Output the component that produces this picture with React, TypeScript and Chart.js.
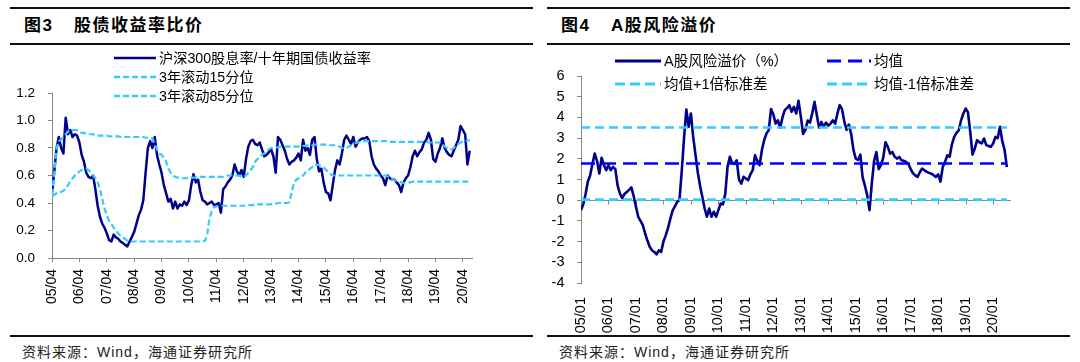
import React, { useEffect, useRef } from 'react';
import { Chart, registerables } from 'chart.js';

Chart.register(...registerables);

const FONT = '"Liberation Sans", Arial, "Noto Sans CJK SC", sans-serif';
const NAVY = '#00008B';
const BLUE = '#0000FF';
const CYAN = '#33CCFF';
const AXIS = '#868686';

// ---------- Figure 3: stock / bond yield ratio (monthly, from 2005-04) ----------
const LEFT_TICK_LABELS = ['05/04', '06/04', '07/04', '08/04', '09/04', '10/04', '11/04', '12/04', '13/04', '14/04', '15/04', '16/04', '17/04', '18/04', '19/04', '20/04'];
const LEFT_Y_TICKS = [0, 0.2, 0.4, 0.6, 0.8, 1.0, 1.2];

const RATIO = [
  0.47, 0.63, 0.80, 0.88, 0.80, 0.76, 1.02, 0.90, 0.93, 0.88, 0.90, 0.89,
  0.84, 0.75, 0.70, 0.62, 0.59, 0.58, 0.60, 0.50, 0.38, 0.30, 0.25, 0.22,
  0.18, 0.13, 0.12, 0.17, 0.15, 0.14, 0.12, 0.11, 0.095, 0.085, 0.12, 0.155,
  0.19, 0.25, 0.31, 0.35, 0.42, 0.62, 0.80, 0.85, 0.80, 0.88, 0.75, 0.68,
  0.62, 0.53, 0.47, 0.41, 0.43, 0.36, 0.41, 0.36, 0.39, 0.38, 0.41, 0.385,
  0.42, 0.53, 0.61, 0.55, 0.57, 0.48, 0.42, 0.41, 0.39, 0.40, 0.41, 0.385,
  0.39, 0.40, 0.33, 0.50, 0.52, 0.55, 0.57, 0.60, 0.68, 0.63, 0.60, 0.64,
  0.59, 0.72, 0.81, 0.85, 0.86, 0.83, 0.82, 0.84, 0.79, 0.74, 0.75, 0.77,
  0.79, 0.74, 0.62, 0.88, 0.86, 0.82, 0.78, 0.72, 0.68, 0.70, 0.71, 0.73,
  0.76, 0.71, 0.86, 0.78, 0.80, 0.75, 0.86, 0.88, 0.72, 0.63, 0.65, 0.55,
  0.48, 0.47, 0.42, 0.53, 0.64, 0.71, 0.68, 0.76, 0.86, 0.89, 0.86, 0.83,
  0.88, 0.81, 0.84, 0.86, 0.87, 0.87, 0.88, 0.85, 0.74, 0.68, 0.65, 0.63,
  0.60, 0.58, 0.53, 0.60, 0.58, 0.57, 0.57, 0.55, 0.53, 0.48, 0.55, 0.58,
  0.60, 0.66, 0.74, 0.78, 0.74, 0.77, 0.79, 0.84, 0.86, 0.91, 0.86, 0.72,
  0.70, 0.76, 0.80, 0.87, 0.80, 0.77, 0.75, 0.74, 0.78, 0.82, 0.86, 0.96,
  0.93, 0.90, 0.68, 0.78,
];

const PCT15 = [
  0.45, 0.46, 0.47, 0.475, 0.48, 0.49, 0.50, 0.53, 0.56, 0.58, 0.60, 0.61,
  0.63, 0.64, 0.645, 0.65, 0.64, 0.62, 0.60, 0.58, 0.55, 0.50, 0.43, 0.36,
  0.31, 0.27, 0.25, 0.22, 0.20, 0.18, 0.16, 0.15, 0.14, 0.125, 0.12, 0.12,
  0.12, 0.12, 0.12, 0.12, 0.12, 0.12, 0.12, 0.12, 0.12, 0.12, 0.12, 0.12,
  0.12, 0.12, 0.12, 0.12, 0.12, 0.12, 0.12, 0.12, 0.12, 0.12, 0.12, 0.12,
  0.12, 0.12, 0.12, 0.12, 0.12, 0.12, 0.12, 0.125, 0.17, 0.29, 0.34, 0.37,
  0.375, 0.38, 0.38, 0.38, 0.38, 0.38, 0.38, 0.38, 0.38, 0.38, 0.38, 0.38,
  0.38, 0.385, 0.385, 0.385, 0.385, 0.39, 0.39, 0.39, 0.39, 0.39, 0.39, 0.39,
  0.39, 0.395, 0.395, 0.40, 0.40, 0.40, 0.40, 0.40, 0.405, 0.48, 0.54, 0.57,
  0.58, 0.59, 0.60, 0.62, 0.63, 0.65, 0.66, 0.68, 0.68, 0.675, 0.67, 0.66,
  0.64, 0.63, 0.61, 0.60, 0.60, 0.60, 0.60, 0.60, 0.60, 0.60, 0.60, 0.60,
  0.60, 0.60, 0.60, 0.60, 0.60, 0.60, 0.60, 0.60, 0.60, 0.60, 0.60, 0.60,
  0.60, 0.60, 0.60, 0.595, 0.58, 0.57, 0.565, 0.56, 0.555, 0.55, 0.545, 0.545,
  0.55, 0.55, 0.555, 0.555, 0.555, 0.555, 0.555, 0.555, 0.555, 0.555, 0.555, 0.555,
  0.555, 0.555, 0.555, 0.555, 0.555, 0.555, 0.555, 0.555, 0.555, 0.555, 0.555, 0.555,
  0.555, 0.555, 0.555, 0.555,
];

const PCT85 = [
  0.46, 0.62, 0.80, 0.85, 0.86, 0.88, 0.90, 0.92, 0.93, 0.93, 0.93, 0.93,
  0.92, 0.91, 0.91, 0.90, 0.90, 0.90, 0.90, 0.89, 0.89, 0.89, 0.89, 0.89,
  0.89, 0.885, 0.885, 0.885, 0.885, 0.885, 0.88, 0.88, 0.88, 0.88, 0.88, 0.88,
  0.88, 0.88, 0.88, 0.88, 0.88, 0.875, 0.875, 0.87, 0.87, 0.83, 0.79, 0.76,
  0.75, 0.73, 0.70, 0.65, 0.62, 0.60, 0.59, 0.585, 0.58, 0.58, 0.58, 0.58,
  0.585, 0.585, 0.585, 0.585, 0.59, 0.59, 0.59, 0.59, 0.59, 0.59, 0.59, 0.59,
  0.59, 0.59, 0.59, 0.59, 0.595, 0.60, 0.60, 0.60, 0.60, 0.60, 0.60, 0.59,
  0.59, 0.60, 0.62, 0.64, 0.66, 0.70, 0.72, 0.74, 0.75, 0.76, 0.78, 0.79,
  0.80, 0.80, 0.805, 0.805, 0.81, 0.81, 0.81, 0.81, 0.81, 0.81, 0.81, 0.81,
  0.81, 0.81, 0.815, 0.815, 0.82, 0.82, 0.82, 0.825, 0.825, 0.825, 0.825, 0.825,
  0.825, 0.825, 0.82, 0.82, 0.82, 0.815, 0.81, 0.80, 0.80, 0.80, 0.81, 0.82,
  0.83, 0.835, 0.84, 0.845, 0.85, 0.85, 0.85, 0.85, 0.85, 0.85, 0.85, 0.85,
  0.85, 0.85, 0.85, 0.85, 0.845, 0.845, 0.845, 0.845, 0.845, 0.845, 0.845, 0.845,
  0.845, 0.845, 0.845, 0.845, 0.845, 0.845, 0.845, 0.845, 0.845, 0.84, 0.84, 0.84,
  0.84, 0.84, 0.84, 0.83, 0.81, 0.80, 0.79, 0.79, 0.80, 0.82, 0.83, 0.84,
  0.845, 0.85, 0.855, 0.855,
];

// ---------- Figure 4: A-share equity risk premium (monthly, from 2005-01) ----------
const RIGHT_TICK_LABELS = ['05/01', '06/01', '07/01', '08/01', '09/01', '10/01', '11/01', '12/01', '13/01', '14/01', '15/01', '16/01', '17/01', '18/01', '19/01', '20/01'];
const RIGHT_Y_TICKS = [-4, -3, -2, -1, 0, 1, 2, 3, 4, 5, 6];

const ERP = [
  -0.48, -0.20, 0.30, 0.90, 1.20, 1.75, 2.25, 1.90, 1.29, 2.05, 1.70, 1.45,
  1.69, 1.45, 1.61, 1.50, 0.70, 0.32, 0.10, 0.30, 0.40, 0.50, 0.62, 0.20,
  -0.32, -0.80, -1.00, -1.20, -1.61, -1.95, -2.25, -2.42, -2.50, -2.62, -2.42, -2.50,
  -2.00, -1.70, -1.35, -0.90, -0.50, -0.30, -0.08, 0.00, 1.40, 3.00, 4.38, 3.55,
  4.19, 3.06, 2.20, 1.35, 0.70, 0.15, -0.40, -0.80, -0.40, -0.80, -0.56, -0.80,
  -0.48, -0.16, -0.20, 0.30, 1.61, 2.10, 1.80, 1.75, 1.93, 1.00, 0.80, 1.13,
  1.05, 0.97, 1.25, 1.45, 2.17, 1.90, 1.69, 2.42, 2.90, 3.22, 3.38, 4.40,
  4.15, 3.70, 3.86, 3.50, 4.00, 4.35, 4.45, 4.59, 4.27, 4.51, 4.19, 4.80,
  4.05, 3.20, 3.40, 3.85, 3.75, 4.20, 4.75, 4.10, 3.50, 3.78, 3.55, 3.75,
  3.60, 3.70, 3.86, 3.70, 4.19, 4.59, 4.40, 3.80, 3.40, 3.65, 3.20, 2.42,
  2.01, 1.95, 2.20, 1.10, 0.70, 0.24, -0.48, 0.80, 1.90, 2.33, 1.50, 1.70,
  2.05, 2.80, 2.58, 2.25, 2.33, 2.10, 2.01, 2.09, 1.93, 1.90, 1.85, 1.75,
  1.50, 1.30, 1.20, 1.13, 1.35, 1.53, 1.45, 1.37, 1.32, 1.28, 1.21, 1.12,
  1.25, 0.90, 1.61, 1.85, 2.17, 2.10, 2.70, 3.06, 3.25, 3.38, 3.86, 4.19,
  4.43, 4.25, 3.30, 2.20, 2.50, 2.90, 2.80, 2.74, 2.98, 2.66, 2.62, 2.58,
  2.74, 3.06, 3.00, 3.55, 2.85, 2.43, 1.60,
];
const ERP_MEAN = 1.77;
const ERP_PLUS_SD = 3.51;
const ERP_MINUS_SD = 0.03;

const pts = (arr: number[]) => arr.map((v, i) => ({ x: i, y: v }));
const flat = (v: number, n: number) => Array.from({ length: n }, (_, i) => ({ x: i, y: v }));

const tickFont = (size: number) => ({ family: FONT, size });

function LeftChart() {
  const ref = useRef<HTMLCanvasElement | null>(null);
  useEffect(() => {
    if (!ref.current) return;
    const chart = new Chart(ref.current, {
      type: 'line',
      data: {
        datasets: [
          { label: '沪深300股息率/十年期国债收益率', data: pts(RATIO), borderColor: NAVY, borderWidth: 2.5, order: 3 },
          { label: '3年滚动15分位', data: pts(PCT15), borderColor: CYAN, borderWidth: 2.2, borderDash: [6, 3], order: 2 },
          { label: '3年滚动85分位', data: pts(PCT85), borderColor: CYAN, borderWidth: 2.2, borderDash: [6, 3], order: 1 },
        ],
      },
      options: {
        animation: false,
        responsive: false,
        maintainAspectRatio: false,
        layout: { padding: { left: 0, top: 48, right: 61, bottom: 0 } },
        plugins: { legend: { display: false }, tooltip: { enabled: false } },
        elements: { point: { radius: 0 }, line: { tension: 0, borderJoinStyle: 'round' } },
        scales: {
          x: {
            type: 'linear',
            min: 0,
            max: 184,
            afterBuildTicks: (s: any) => { s.ticks = LEFT_TICK_LABELS.map((_, k) => ({ value: k * 12 })); },
            afterFit: (s: any) => { s.height = 77; },
            grid: { drawOnChartArea: false, tickLength: 4, tickColor: AXIS, color: AXIS },
            border: { color: AXIS, width: 1 },
            ticks: {
              autoSkip: false, maxRotation: 90, minRotation: 90, padding: 7, color: '#000',
              font: tickFont(14),
              callback: (v: any) => LEFT_TICK_LABELS[Math.round(Number(v) / 12)] ?? '',
            },
          },
          y: {
            min: 0,
            max: 1.2,
            afterBuildTicks: (s: any) => { s.ticks = LEFT_Y_TICKS.map((v) => ({ value: v })); },
            afterFit: (s: any) => { s.width = 42; },
            grid: { drawOnChartArea: false, tickLength: 4, tickColor: AXIS, color: AXIS },
            border: { color: AXIS, width: 1 },
            ticks: { padding: 13, color: '#000', font: tickFont(13.5), callback: (v: any) => Number(v).toFixed(1) },
          },
        },
      } as any,
    });
    return () => chart.destroy();
  }, []);
  return <canvas ref={ref} width={523} height={290} style={{ display: 'block', width: 523, height: 290 }} />;
}

const zeroAxisPlugin = {
  id: 'zeroAxis',
  beforeDatasetsDraw(chart: any) {
    const { ctx, chartArea, scales } = chart;
    const y0 = Math.round(scales.y.getPixelForValue(0)) + 0.5;
    ctx.save();
    ctx.strokeStyle = AXIS;
    ctx.lineWidth = 1;
    ctx.beginPath();
    ctx.moveTo(chartArea.left, y0);
    ctx.lineTo(chartArea.right, y0);
    RIGHT_TICK_LABELS.forEach((_, k) => {
      const x = Math.round(scales.x.getPixelForValue(k * 12)) + 0.5;
      ctx.moveTo(x, y0);
      ctx.lineTo(x, y0 + 4);
    });
    ctx.stroke();
    ctx.restore();
  },
};

function RightChart() {
  const ref = useRef<HTMLCanvasElement | null>(null);
  useEffect(() => {
    if (!ref.current) return;
    const n = ERP.length;
    const chart = new Chart(ref.current, {
      type: 'line',
      data: {
        datasets: [
          { label: 'A股风险溢价（%）', data: pts(ERP), borderColor: NAVY, borderWidth: 2.6, order: 4 },
          { label: '均值', data: flat(ERP_MEAN, n), borderColor: BLUE, borderWidth: 2.6, borderDash: [14, 7], order: 3 },
          { label: '均值+1倍标准差', data: flat(ERP_PLUS_SD, n), borderColor: CYAN, borderWidth: 2.6, borderDash: [9, 5], order: 2 },
          { label: '均值-1倍标准差', data: flat(ERP_MINUS_SD, n), borderColor: CYAN, borderWidth: 2.6, borderDash: [9, 5], order: 1 },
        ],
      },
      plugins: [zeroAxisPlugin],
      options: {
        animation: false,
        responsive: false,
        maintainAspectRatio: false,
        layout: { padding: { left: 0, top: 31, right: 59, bottom: 0 } },
        plugins: { legend: { display: false }, tooltip: { enabled: false } },
        elements: { point: { radius: 0 }, line: { tension: 0, borderJoinStyle: 'round' } },
        scales: {
          x: {
            type: 'linear',
            min: 0,
            max: 187.8,
            afterBuildTicks: (s: any) => { s.ticks = RIGHT_TICK_LABELS.map((_, k) => ({ value: k * 12 })); },
            afterFit: (s: any) => { s.height = 52; },
            grid: { display: false, drawTicks: false, tickLength: 0 },
            border: { display: false },
            ticks: {
              autoSkip: false, maxRotation: 90, minRotation: 90, padding: 14, color: '#000',
              font: tickFont(14.5),
              callback: (v: any) => RIGHT_TICK_LABELS[Math.round(Number(v) / 12)] ?? '',
            },
          },
          y: {
            min: -4,
            max: 6,
            afterBuildTicks: (s: any) => { s.ticks = RIGHT_Y_TICKS.map((v) => ({ value: v })); },
            afterFit: (s: any) => { s.width = 34; },
            grid: { drawOnChartArea: false, tickLength: 4, tickColor: AXIS, color: AXIS },
            border: { color: AXIS, width: 1 },
            ticks: { padding: 12.5, color: '#000', font: tickFont(14.5), callback: (v: any) => String(v) },
          },
        },
      } as any,
    });
    return () => chart.destroy();
  }, []);
  return <canvas ref={ref} width={523} height={290} style={{ display: 'block', width: 523, height: 290 }} />;
}

function Sample({ color, dash, w, lw }: { color: string; dash?: number[]; w: number; lw: number }) {
  return (
    <svg width={w} height={8} style={{ display: 'block' }}>
      <line x1={0} y1={4} x2={w} y2={4} stroke={color} strokeWidth={lw} strokeDasharray={dash ? dash.join(' ') : undefined} />
    </svg>
  );
}

function LegendItem({ x, y, textX, label, color, dash, size, lw }: any) {
  return (
    <>
      <div style={{ position: 'absolute', left: x, top: y - 4 }}>
        <Sample color={color} dash={dash} w={textX - x - 3} lw={lw} />
      </div>
      <div style={{ position: 'absolute', left: textX, top: y - 10, height: 20, lineHeight: '20px', fontSize: size, whiteSpace: 'nowrap', color: '#000' }}>
        {label}
      </div>
    </>
  );
}

function Panel({ left, fig, title, children }: any) {
  return (
    <>
      <div style={{ position: 'absolute', left, top: 7, width: 523, height: 2, background: '#111' }} />
      <div style={{ position: 'absolute', left: left + 14, top: 16, height: 20, lineHeight: '20px', fontSize: 17, fontWeight: 'bold', color: '#000', whiteSpace: 'nowrap', letterSpacing: 1.5 }}>
        <span style={{ display: 'inline-block', width: 50 }}>{fig}</span>
        <span>{title}</span>
      </div>
      <div style={{ position: 'absolute', left, top: 43, width: 523, height: 2, background: '#111' }} />
      <div style={{ position: 'absolute', left, top: 45 }}>{children}</div>
      <div style={{ position: 'absolute', left, top: 335, width: 523, height: 2, background: '#111' }} />
      <div style={{ position: 'absolute', left: left + 12, top: 343, height: 18, lineHeight: '18px', fontSize: 14, letterSpacing: 1, color: '#222', whiteSpace: 'nowrap' }}>
        资料来源：Wind，海通证券研究所
      </div>
    </>
  );
}

export default function App() {
  return (
    <div style={{ position: 'absolute', left: 0, top: 0, width: 1080, height: 362, background: '#fff', overflow: 'hidden', fontFamily: FONT }}>
      <Panel left={10} fig="图3" title="股债收益率比价">
        <LeftChart />
      </Panel>
      <Panel left={547} fig="图4" title="A股风险溢价">
        <RightChart />
      </Panel>

      <LegendItem x={114} y={58} textX={159} label="沪深300股息率/十年期国债收益率" color={NAVY} size={14.2} lw={2.6} />
      <LegendItem x={114} y={77} textX={159} label="3年滚动15分位" color={CYAN} dash={[6, 3]} size={14.2} lw={2.4} />
      <LegendItem x={114} y={96} textX={159} label="3年滚动85分位" color={CYAN} dash={[6, 3]} size={14.2} lw={2.4} />

      <LegendItem x={615} y={61} textX={664} label="A股风险溢价（%）" color={NAVY} size={14.5} lw={3} />
      <LegendItem x={827} y={61} textX={874} label="均值" color={BLUE} dash={[14, 7]} size={14.5} lw={3} />
      <LegendItem x={615} y={84} textX={664} label="均值+1倍标准差" color={CYAN} dash={[10, 5]} size={14.5} lw={3} />
      <LegendItem x={827} y={84} textX={874} label="均值-1倍标准差" color={CYAN} dash={[10, 5]} size={14.5} lw={3} />
    </div>
  );
}
